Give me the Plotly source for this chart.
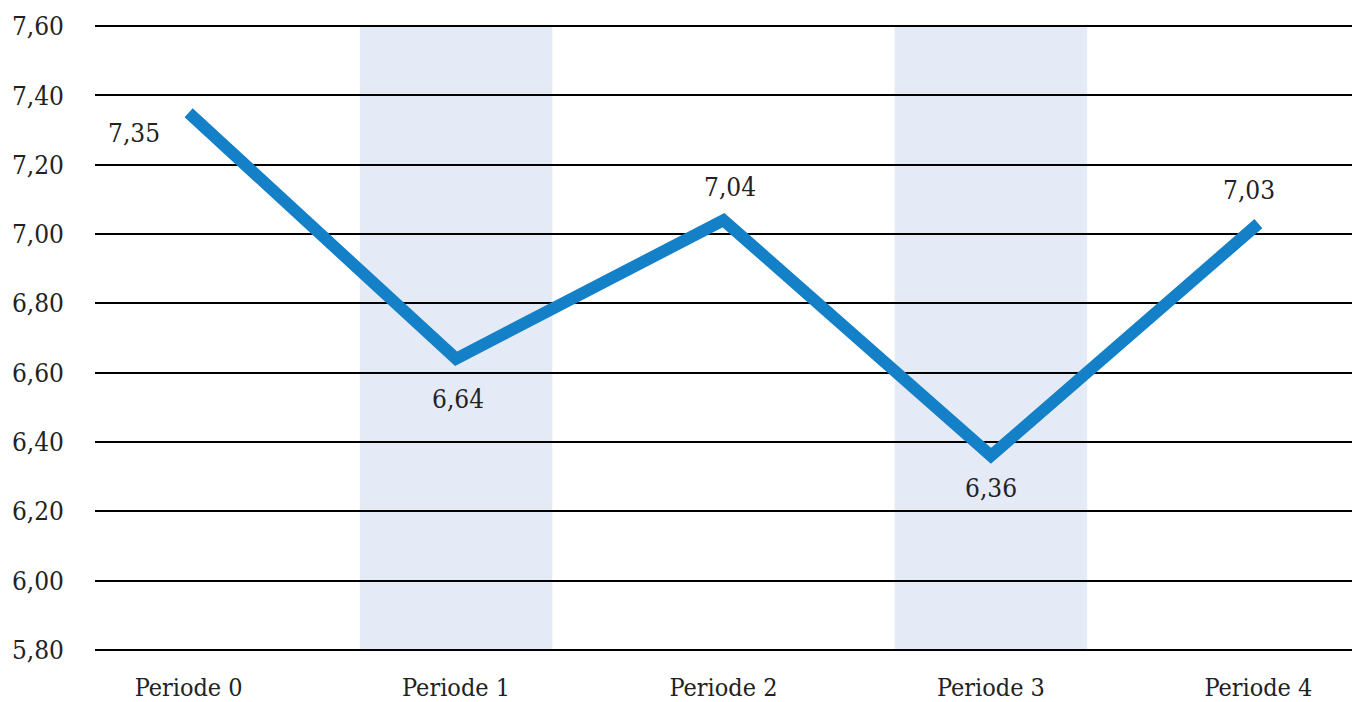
import plotly.graph_objects as go

categories = ["Periode 0", "Periode 1", "Periode 2", "Periode 3", "Periode 4"]
values = [7.35, 6.64, 7.04, 6.36, 7.03]
label_offsets = [(-55, -20), (2, -40), (6, 33), (0, -32), (-9, 34)]
shaded = [False, True, False, True, False]
y_ticks = [5.8, 6.0, 6.2, 6.4, 6.6, 6.8, 7.0, 7.2, 7.4, 7.6]

FONT = "'DejaVu Serif Condensed', 'DejaVu Serif', serif"
TXT = "#222222"
ymin, ymax = y_ticks[0], y_ticks[-1]
pad = 0.006
xs = list(range(len(categories)))

fig = go.Figure()

fig.add_trace(go.Scatter(
    x=xs, y=values,
    mode="lines",
    line=dict(color="#1380C7", width=12),
    hoverinfo="skip",
    showlegend=False,
))

# shaded bands for alternate periods (below gridlines)
for i, s in zip(xs, shaded):
    if s:
        fig.add_shape(type="rect", xref="x", yref="y",
                      x0=i - 0.36, x1=i + 0.36, y0=ymin, y1=ymax,
                      fillcolor="#E4EBF6", line=dict(width=0), layer="below")

for i, (v, (dx, dy)) in enumerate(zip(values, label_offsets)):
    fig.add_annotation(x=i, y=v, text=f"{v:.2f}".replace(".", ","),
                       showarrow=False, xshift=dx, yshift=dy,
                       font=dict(family=FONT, size=26, color=TXT))

fig.update_layout(
    width=1352, height=702,
    margin=dict(l=95, r=0, t=24, b=46),
    plot_bgcolor="rgba(0,0,0,0)", paper_bgcolor="white",
    separators=",.",
    font=dict(family=FONT, size=26, color=TXT),
    xaxis=dict(
        range=[-0.35, len(categories) - 1 + 0.35],
        tickmode="array", tickvals=xs, ticktext=categories,
        showgrid=False, zeroline=False, showline=False,
        ticks="", ticklabelstandoff=18,
        tickfont=dict(family=FONT, size=25, color=TXT),
    ),
    yaxis=dict(
        range=[ymin - pad, ymax + pad],
        tickmode="array", tickvals=y_ticks, tickformat=".2f",
        showgrid=True, gridcolor="#000000", gridwidth=1.5,
        zeroline=False, showline=False,
        ticks="", ticklabelstandoff=30,
        tickfont=dict(family=FONT, size=26, color=TXT),
    ),
)

fig.write_html(
    "out.html", config={"displayModeBar": False},
    post_script=("document.body.style.margin='0';"
                 "document.body.style.overflow='hidden';"
                 "document.documentElement.style.overflow='hidden';"),
)
